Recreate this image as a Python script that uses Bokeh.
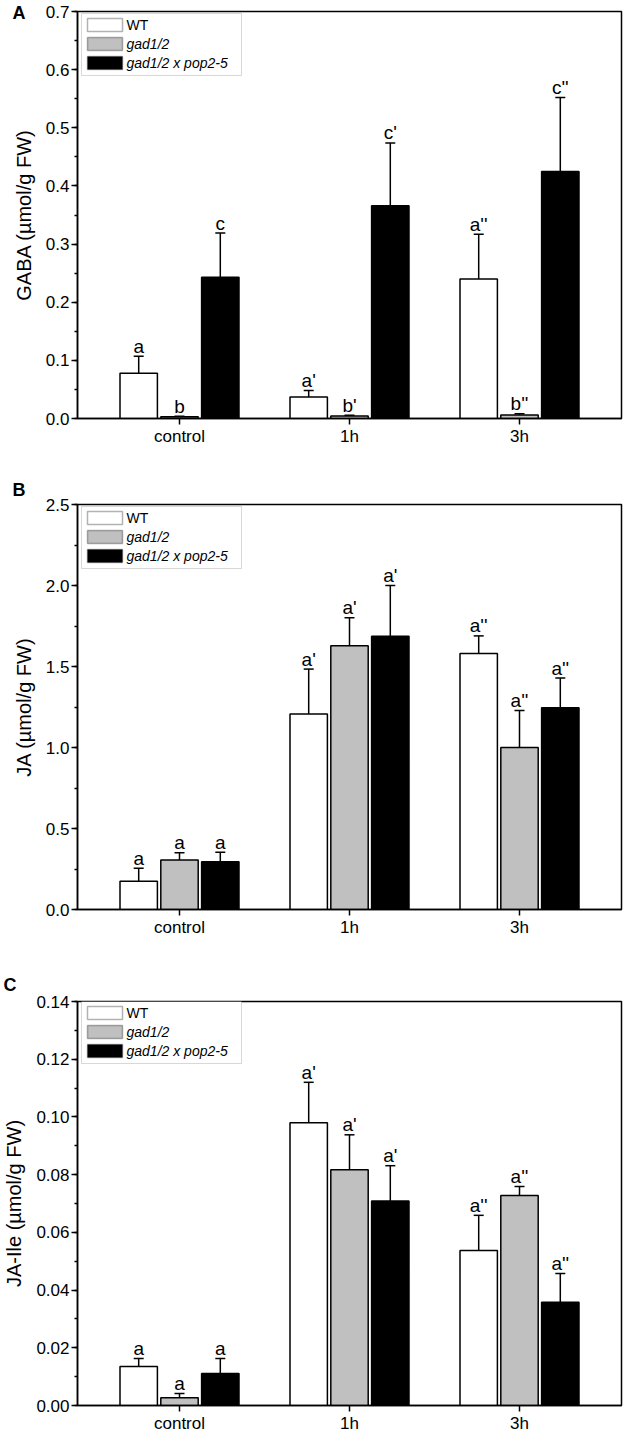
import numpy as np
from bokeh.plotting import figure
from bokeh.models import (Range1d, FixedTicker, SingleIntervalTicker, PrintfTickFormatter,
                          Whisker, TeeHead, ColumnDataSource, BoxAnnotation, Label, Title)
from bokeh.layouts import column
from bokeh.embed import file_html
from bokeh.resources import INLINE
from bokeh.core.properties import value

# ---------------- data ----------------
categories = ["control", "1h", "3h"]
genotypes = ["WT", "gad1/2", "gad1/2 x pop2-5"]

gaba_wt = [0.078, 0.037, 0.240]
gaba_wt_err = [0.029, 0.011, 0.077]
gaba_gad = [0.003, 0.0045, 0.006]
gaba_gad_err = [0.001, 0.001, 0.002]
gaba_pop = [0.243, 0.366, 0.425]
gaba_pop_err = [0.076, 0.108, 0.127]
gaba_let_wt = ["a", "a'", "a''"]
gaba_let_gad = ["b", "b'", "b''"]
gaba_let_pop = ["c", "c'", "c''"]

ja_wt = [0.175, 1.207, 1.581]
ja_wt_err = [0.080, 0.277, 0.108]
ja_gad = [0.305, 1.628, 1.000]
ja_gad_err = [0.045, 0.173, 0.228]
ja_pop = [0.295, 1.687, 1.246]
ja_pop_err = [0.058, 0.313, 0.183]
ja_let_wt = ["a", "a'", "a''"]
ja_let_gad = ["a", "a'", "a''"]
ja_let_pop = ["a", "a'", "a''"]

jaile_wt = [0.0135, 0.0980, 0.0537]
jaile_wt_err = [0.0028, 0.0140, 0.0122]
jaile_gad = [0.0027, 0.0817, 0.0728]
jaile_gad_err = [0.0015, 0.0121, 0.0031]
jaile_pop = [0.0111, 0.0709, 0.0358]
jaile_pop_err = [0.0052, 0.0122, 0.0099]
jaile_let_wt = ["a", "a'", "a''"]
jaile_let_gad = ["a", "a'", "a''"]
jaile_let_pop = ["a", "a'", "a''"]

# ---------------- style ----------------
FONT = "Liberation Sans"
FILLS = ["white", "#c0c0c0", "black"]
OFFSETS = [-0.24, 0.0, 0.24]
BAR_W = 0.22
FIG_W = 626
BORDER_R = 5


def panel(letter, ylabel, ymax, interval, fmt, series, errs, letters,
          h, bl, bt, bb, letter_standoff):
    p = figure(width=FIG_W, height=h, output_backend="svg", toolbar_location=None,
               x_range=Range1d(0.4, 3.6), y_range=Range1d(0, ymax * (1 + 1e-9)),
               min_border_left=bl, min_border_right=BORDER_R,
               min_border_top=bt, min_border_bottom=bb)
    p.grid.visible = False
    p.outline_line_color = "black"
    p.outline_line_width = 1.5
    p.outline_line_alpha = 1.0
    p.background_fill_color = "white"
    p.border_fill_color = "white"

    xpos = np.arange(1, len(categories) + 1)
    for k in range(3):
        src = ColumnDataSource(dict(
            x=xpos + OFFSETS[k],
            top=series[k],
            up=np.array(series[k]) + np.array(errs[k]),
            lo=np.array(series[k]) - np.array(errs[k]),
            lab=letters[k],
        ))
        p.vbar(x="x", top="top", bottom=0, width=BAR_W, source=src,
               fill_color=FILLS[k], line_color="black", line_width=1.5)
        w = Whisker(base="x", upper="up", lower="lo", source=src,
                    line_color="black", line_width=1.5,
                    upper_head=TeeHead(size=10, line_width=1.5, line_color="black"),
                    lower_head=TeeHead(size=10, line_width=1.5, line_color="black"))
        p.add_layout(w)
        p.text(x="x", y="up", text="lab", source=src, text_align="center",
               text_baseline="alphabetic", y_offset=-10,
               text_font=value(FONT), text_font_size="19px", text_color="black")

    # axes
    xa = p.xaxis[0]
    xa.ticker = FixedTicker(ticks=[1, 2, 3], minor_ticks=[])
    xa.major_label_overrides = {1: categories[0], 2: categories[1], 3: categories[2]}
    ya = p.yaxis[0]
    ya.ticker = SingleIntervalTicker(interval=interval, num_minor_ticks=2)
    ya.formatter = PrintfTickFormatter(format=fmt)
    ya.axis_label = ylabel
    ya.axis_label_standoff = 8
    ya.axis_label_text_font_style = "normal"
    ya.axis_label_text_font = FONT
    ya.axis_label_text_font_size = "20px"
    ya.axis_label_text_color = "black"
    for ax in (xa, ya):
        ax.axis_line_width = 1.5
        ax.axis_line_color = "black"
        ax.major_tick_line_width = 1.5
        ax.minor_tick_line_width = 1.5
        ax.major_tick_out = 6
        ax.major_tick_in = 0
        ax.minor_tick_out = 3
        ax.minor_tick_in = 0
        ax.major_label_standoff = 2
        ax.major_label_text_font = FONT
        ax.major_label_text_font_size = "17px"
        ax.major_label_text_color = "black"

    fh = h - bt - bb
    # panel letter
    p.add_layout(Title(text=letter, align="left", offset=-bl, standoff=letter_standoff,
                       text_font=FONT, text_font_size="18px",
                       text_font_style="bold", text_color="black"), "above")
    # legend (manual, to allow italic genotype names)
    p.add_layout(BoxAnnotation(left=4, right=164, top=fh - 2, bottom=fh - 64,
                               left_units="screen", right_units="screen",
                               top_units="screen", bottom_units="screen",
                               fill_color="white", fill_alpha=1.0,
                               line_color="#7f7f7f", line_width=1))
    row_tops = [7, 26, 45]
    for k in range(3):
        p.add_layout(BoxAnnotation(left=10, right=45, top=fh - row_tops[k],
                                   bottom=fh - row_tops[k] - 13,
                                   left_units="screen", right_units="screen",
                                   top_units="screen", bottom_units="screen",
                                   fill_color=FILLS[k], fill_alpha=1.0,
                                   line_color="black", line_width=1.5))
        p.add_layout(Label(x=49, y=fh - row_tops[k] - 6.5, x_units="screen",
                           y_units="screen", text=genotypes[k], text_font=FONT,
                           text_font_size="14px",
                           text_font_style="normal" if k == 0 else "italic",
                           text_baseline="middle", text_align="left",
                           text_color="black"))
    return p


pA = panel("A", "GABA (µmol/g FW)", 0.7, 0.1, "%.1f",
           [gaba_wt, gaba_gad, gaba_pop], [gaba_wt_err, gaba_gad_err, gaba_pop_err],
           [gaba_let_wt, gaba_let_gad, gaba_let_pop],
           h=460, bl=65, bt=11, bb=42, letter_standoff=-22)
pB = panel("B", "JA (µmol/g FW)", 2.5, 0.5, "%.1f",
           [ja_wt, ja_gad, ja_pop], [ja_wt_err, ja_gad_err, ja_pop_err],
           [ja_let_wt, ja_let_gad, ja_let_pop],
           h=483, bl=65, bt=44, bb=34, letter_standoff=10)
pC = panel("C", "JA-Ile (µmol/g FW)", 0.14, 0.02, "%.2f",
           [jaile_wt, jaile_gad, jaile_pop], [jaile_wt_err, jaile_gad_err, jaile_pop_err],
           [jaile_let_wt, jaile_let_gad, jaile_let_pop],
           h=492, bl=74, bt=58, bb=28, letter_standoff=14)

layout = column(pA, pB, pC, spacing=0)
open("out.html", "w").write(file_html(layout, INLINE))
